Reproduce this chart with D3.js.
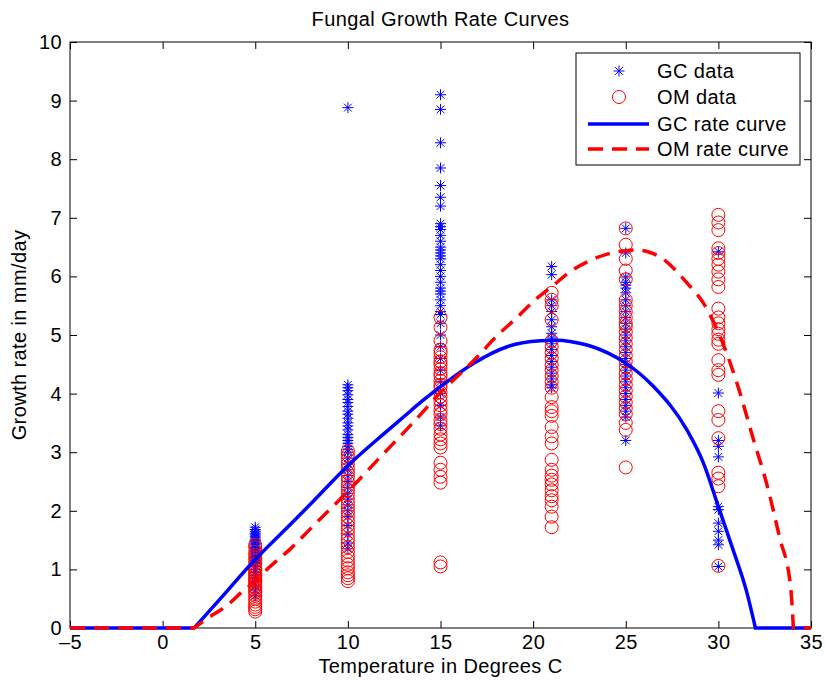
<!DOCTYPE html>
<html>
<head>
<meta charset="utf-8">
<script src="https://cdn.jsdelivr.net/npm/d3@7"></script>
<style>
  body { margin: 0; background: #fff; }
  svg text { font-family: "Liberation Sans", Arial, Helvetica, sans-serif; fill: #000; letter-spacing: 0.4px; }
</style>
</head>
<body>
<div id="chart"></div>
<script>
// ── Data ─────────────────────────────────────────────────
var xTicks = [-5, 0, 5, 10, 15, 20, 25, 30, 35];
var yTicks = [0, 1, 2, 3, 4, 5, 6, 7, 8, 9, 10];

// GC measurements (blue asterisks), one array per temperature
var gc5  = [1.72, 1.68, 1.65, 1.62, 1.6, 1.57, 1.55, 1.52, 1.5, 1.48, 1.45, 1.43, 1.4, 1.38, 1.36, 1.33, 1.3, 1.28,
            1.25, 1.22, 1.2, 1.18, 1.15, 1.12, 1.1, 1.05, 1.0, 0.95, 0.9, 0.85, 0.8, 0.72, 0.65, 0.55];
var gc10 = [8.88, 4.15, 4.1, 4.05, 3.98, 3.9, 3.85, 3.78, 3.7, 3.65, 3.58, 3.5, 3.45, 3.38, 3.3, 3.25, 3.2, 3.15,
            3.1, 3.05, 3.0, 2.9, 2.8, 2.7, 2.6, 2.5, 2.4, 2.3, 2.2, 2.1, 2.0, 1.9, 1.75, 1.6, 1.45, 1.35];
var gc15 = [9.1, 8.85, 8.28, 7.85, 7.55, 7.35, 7.2, 6.9, 6.85, 6.8, 6.7, 6.6, 6.5, 6.45, 6.4, 6.35, 6.3, 6.2, 6.1,
            6.0, 5.9, 5.8, 5.75, 5.7, 5.6, 5.5, 5.4, 5.35, 5.2, 5.0, 4.8, 4.6, 4.4, 4.2, 4.0, 3.8, 3.6, 3.45];
var gc21 = [6.17, 6.03, 5.6, 5.5, 5.4, 5.26, 5.14, 5.03, 4.95, 4.85, 4.75, 4.65, 4.55, 4.45, 4.35, 4.25, 4.15, 4.1];
var gc25 = [6.82, 6.4, 5.99, 5.9, 5.85, 5.8, 5.72, 5.6, 5.5, 5.4, 5.3, 5.2, 5.1, 5.0, 4.9, 4.8, 4.7, 4.6, 4.5,
            4.4, 4.3, 4.2, 4.1, 4.0, 3.9, 3.8, 3.7, 3.6, 3.2];
var gc30 = [6.42, 4.01, 3.2, 3.1, 2.92, 2.07, 2.02, 1.79, 1.65, 1.5, 1.42, 1.05];

// OM measurements (red circles)
var om5  = [1.42, 1.38, 1.3, 1.25, 1.2, 1.15, 1.1, 1.05, 1.0, 0.97, 0.93, 0.9, 0.87, 0.83, 0.8, 0.77, 0.73, 0.7,
            0.67, 0.63, 0.6, 0.55, 0.5, 0.45, 0.4, 0.36, 0.32, 0.28];
var om10 = [3.02, 2.95, 2.88, 2.8, 2.72, 2.65, 2.58, 2.5, 2.42, 2.35, 2.28, 2.2, 2.12, 2.05, 1.98, 1.9, 1.82, 1.75,
            1.68, 1.6, 1.52, 1.45, 1.38, 1.3, 1.22, 1.15, 1.08, 1.02, 0.95, 0.9, 0.85, 0.8];
var om15 = [5.3, 5.13, 4.9, 4.75, 4.7, 4.62, 4.55, 4.5, 4.42, 4.35, 4.3, 4.22, 4.15, 4.1, 4.02, 3.95, 3.88, 3.8,
            3.72, 3.65, 3.55, 3.48, 3.4, 3.3, 3.22, 3.15, 3.08, 2.82, 2.7, 2.58, 2.48, 1.12, 1.05];
var om21 = [5.72, 5.6, 5.5, 5.26, 4.9, 4.8, 4.7, 4.6, 4.49, 4.4, 4.3, 4.2, 4.1, 3.94, 3.77, 3.7, 3.62, 3.43, 3.27,
            3.15, 2.87, 2.7, 2.6, 2.53, 2.45, 2.35, 2.25, 2.18, 2.07, 1.9, 1.72];
var om25 = [6.82, 6.54, 6.3, 6.1, 5.95, 5.6, 5.5, 5.4, 5.3, 5.2, 5.15, 5.05, 4.95, 4.85, 4.75, 4.65, 4.55, 4.45,
            4.35, 4.25, 4.15, 4.05, 3.95, 3.85, 3.75, 3.65, 3.5, 3.38, 2.74];
var om30 = [7.05, 6.92, 6.79, 6.48, 6.4, 6.3, 6.2, 6.08, 5.95, 5.82, 5.45, 5.3, 5.2, 5.1, 5.02, 4.92, 4.85, 4.57,
            4.4, 4.32, 3.7, 3.55, 3.24, 2.65, 2.55, 2.42, 1.06];

// Fitted rate curves
var gcCurveT = [-5, 1.7, 3, 5, 7, 8, 10, 12, 13, 14, 15, 16.8, 18.6, 20.4, 21.3, 22, 23, 24, 25, 26.5, 28.3,
                29.2, 30, 30.8, 31.5, 32, 35];
var gcCurveR = [0, 0, 0.46, 1.17, 1.8, 2.12, 2.77, 3.33, 3.6, 3.87, 4.12, 4.52, 4.8, 4.9, 4.91, 4.89, 4.82, 4.7,
                4.52, 4.12, 3.38, 2.81, 2.07, 1.33, 0.65, 0, 0];
var omCurveT = [-5, 1.7, 2.4, 3.5, 4.4, 5, 5.6, 7, 8, 10, 12, 13, 14, 15, 16.1, 17, 18, 19.1, 20, 21.1, 22, 23,
                24, 25, 25.6, 26.2, 27, 28.3, 29.2, 30.1, 31, 31.9, 32.6, 33.3, 33.9, 34.05, 35];
var omCurveR = [0, 0, 0.16, 0.39, 0.65, 0.8, 0.99, 1.38, 1.7, 2.33, 3.0, 3.33, 3.67, 4.02, 4.35, 4.63, 4.97, 5.29,
                5.57, 5.85, 6.08, 6.26, 6.38, 6.44, 6.45, 6.42, 6.3, 5.89, 5.54, 4.97, 4.18, 3.21, 2.47, 1.55, 0.7, 0, 0];

var legendLabels = ["GC data", "OM data", "GC rate curve", "OM rate curve"];

// ── Layout ───────────────────────────────────────────────
var W = 825, H = 683;
var L = 70, R = 811, T = 42, B = 628;
var BLUE = "#0000ff", RED = "#ff0000";
var FS = 20;

var svg = d3.select("#chart").append("svg").attr("width", W).attr("height", H);

var x = d3.scaleLinear().domain([-5, 35]).range([L, R]);
var y = d3.scaleLinear().domain([0, 10]).range([B, T]);

// Axes: MATLAB style, inward ticks on all four sides
function styleAxis(sel) {
  sel.select(".domain").remove();
  sel.selectAll(".tick line").attr("stroke", "#000");
  sel.selectAll(".tick text").style("font-size", FS + "px");
}
svg.append("g").attr("transform", "translate(0," + B + ")")
  .call(d3.axisBottom(x).tickValues(xTicks).tickSizeInner(-7).tickSizeOuter(0).tickPadding(7)
    .tickFormat(function (d) { return d < 0 ? "\u2013" + (-d) : d; }))
  .call(styleAxis);
svg.append("g").attr("transform", "translate(0," + T + ")")
  .call(d3.axisTop(x).tickValues(xTicks).tickSizeInner(-7).tickSizeOuter(0).tickFormat(""))
  .call(styleAxis);
svg.append("g").attr("transform", "translate(" + L + ",0)")
  .call(d3.axisLeft(y).tickValues(yTicks).tickSizeInner(-7).tickSizeOuter(0).tickPadding(8))
  .call(styleAxis);
svg.append("g").attr("transform", "translate(" + R + ",0)")
  .call(d3.axisRight(y).tickValues(yTicks).tickSizeInner(-7).tickSizeOuter(0).tickFormat(""))
  .call(styleAxis);

svg.append("rect").attr("x", L).attr("y", T).attr("width", R - L).attr("height", B - T)
  .attr("fill", "none").attr("stroke", "#000").attr("stroke-width", 1);

// Titles
svg.append("text").attr("x", (L + R) / 2).attr("y", 26).attr("text-anchor", "middle")
  .style("font-size", FS + "px").text("Fungal Growth Rate Curves");
svg.append("text").attr("x", (L + R) / 2).attr("y", 673).attr("text-anchor", "middle")
  .style("font-size", FS + "px").text("Temperature in Degrees C");
svg.append("text").attr("transform", "translate(26," + ((T + B) / 2) + ") rotate(-90)")
  .attr("text-anchor", "middle").style("font-size", FS + "px").text("Growth rate in mm/day");

// Markers
var STAR = 5.5, CIRC = 6.5;
function starPath(r) {
  var d = r * Math.SQRT1_2;
  return "M" + (-r) + ",0L" + r + ",0M0," + (-r) + "L0," + r +
    "M" + (-d) + "," + (-d) + "L" + d + "," + d + "M" + (-d) + "," + d + "L" + d + "," + (-d);
}
function flatten(temps, lists) {
  var pts = [];
  temps.forEach(function (t, i) { lists[i].forEach(function (v) { pts.push([t, v]); }); });
  return pts;
}
var gcPts = flatten([5, 10, 15, 21, 25, 30], [gc5, gc10, gc15, gc21, gc25, gc30]);
var omPts = flatten([5, 10, 15, 21, 25, 30], [om5, om10, om15, om21, om25, om30]);

svg.append("g").selectAll("path").data(gcPts).join("path")
  .attr("transform", function (d) { return "translate(" + x(d[0]) + "," + y(d[1]) + ")"; })
  .attr("d", starPath(STAR)).attr("fill", "none").attr("stroke", BLUE).attr("stroke-width", 1);

svg.append("g").selectAll("circle").data(omPts).join("circle")
  .attr("cx", function (d) { return x(d[0]); }).attr("cy", function (d) { return y(d[1]); })
  .attr("r", CIRC).attr("fill", "none").attr("stroke", RED).attr("stroke-width", 1);

// Curves: flat zero pieces straight, the growth part smoothed
var lin = d3.line().x(function (d) { return x(d[0]); }).y(function (d) { return y(d[1]); });
var mono = d3.line().x(function (d) { return x(d[0]); }).y(function (d) { return y(d[1]); }).curve(d3.curveMonotoneX);
function curvePath(ts, rs) {
  var pts = ts.map(function (t, i) { return [t, rs[i]]; });
  var n = pts.length;
  return lin(pts.slice(0, 2)) + mono(pts.slice(1, n - 1)).replace(/^M[^CL]*/, "") + "L" + x(pts[n - 1][0]) + "," + y(pts[n - 1][1]);
}
svg.append("path").attr("d", curvePath(gcCurveT, gcCurveR))
  .attr("fill", "none").attr("stroke", BLUE).attr("stroke-width", 3.5);
svg.append("path").attr("d", curvePath(omCurveT, omCurveR))
  .attr("fill", "none").attr("stroke", RED).attr("stroke-width", 3.5).attr("stroke-dasharray", "15,9");

// Legend
var lg = svg.append("g");
lg.append("rect").attr("x", 576).attr("y", 53).attr("width", 224).attr("height", 112)
  .attr("fill", "#fff").attr("stroke", "#000").attr("stroke-width", 1);
var rowY = [71, 97, 124, 149];
legendLabels.forEach(function (lab, i) {
  var yy = rowY[i];
  if (i === 0) lg.append("path").attr("transform", "translate(619," + yy + ")").attr("d", starPath(STAR))
    .attr("fill", "none").attr("stroke", BLUE);
  if (i === 1) lg.append("circle").attr("cx", 619).attr("cy", yy).attr("r", CIRC)
    .attr("fill", "none").attr("stroke", RED);
  if (i === 2) lg.append("line").attr("x1", 588).attr("x2", 649).attr("y1", yy).attr("y2", yy)
    .attr("stroke", BLUE).attr("stroke-width", 3.5);
  if (i === 3) lg.append("line").attr("x1", 588).attr("x2", 649).attr("y1", yy).attr("y2", yy)
    .attr("stroke", RED).attr("stroke-width", 3.5).attr("stroke-dasharray", "15,9");
  lg.append("text").attr("x", 657).attr("y", yy).attr("dy", "0.35em")
    .style("font-size", FS + "px").text(lab);
});
</script>
</body>
</html>
